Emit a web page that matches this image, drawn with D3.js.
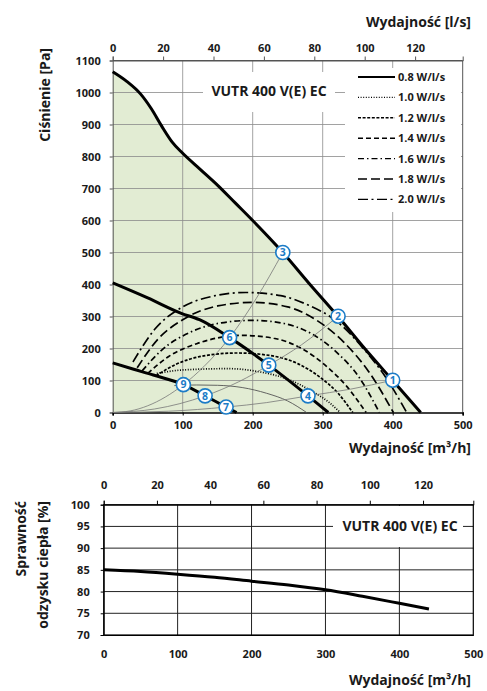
<!DOCTYPE html>
<html lang="pl">
<head>
<meta charset="UTF-8">
<title>VUTR 400 V(E) EC</title>
<script src="https://cdn.jsdelivr.net/npm/d3@7/dist/d3.min.js"></script>
<style>
  body{margin:0;background:#fff}
  svg text{font-family:"Open Sans",sans-serif;font-weight:700;fill:#1a1a1a}
</style>
</head>
<body>
<div id="box"></div>
<script>
// charakterystyka wentylatora [m3/h, Pa]
const maxCurve=[[0,1065],[20,1035],[40,995],[55,950],[70,895],[85,845],[100,810],[125,760],[150,710],[175,655],[200,600],[243,500],[280,405],[322,300],[360,200],[400,100],[440,0]];
const midCurve=[[0,405],[50,358],[98,310],[124,290],[167,234],[223,148],[279,52],[308,0]];
const lowCurve=[[0,155],[30,135],[58,117],[101,87],[132,52],[162,17],[177,0]];

// krzywe mocy wlasciwej SFP
const p08=[[88,84],[120,86],[150,85],[185,78],[220,60],[250,36],[277,0]];
const p10=[[63,122],[100,133],[165,137],[210,127],[250,104],[285,66],[310,30],[325,0]];
const p12=[[62,115],[90,150],[130,177],[178,186],[225,178],[265,152],[295,112],[322,60],[343,0]];
const p14=[[50,122],[80,175],[120,215],[185,241],[230,232],[270,200],[305,145],[335,80],[362,0]];
const p16=[[42,130],[70,195],[110,250],[155,280],[200,288],[245,278],[285,245],[320,188],[352,110],[381,0]];
const p18=[[35,140],[65,230],[100,290],[150,333],[200,344],[250,330],[290,290],[330,220],[365,130],[401,0]];
const p20=[[29,158],[60,260],[100,330],[140,362],[190,375],[240,365],[280,335],[320,285],[360,195],[390,110],[420,0]];
const powerCurves=[p08,p10,p12,p14,p16,p18,p20];
const powerLabels=["0.8 W/l/s","1.0 W/l/s","1.2 W/l/s","1.4 W/l/s","1.6 W/l/s","1.8 W/l/s","2.0 W/l/s"];

// charakterystyki sieci i punkty pracy
const sys1=[[0,0],[80,4],[162,17],[220,31],[279,52],[340,73],[400,101]];
const sys2=[[0,0],[60,11],[132,52],[180,96],[223,148],[270,212],[322,301]];
const sys3=[[0,0],[25,5],[50,21],[75,48],[101,87],[130,143],[167,234],[205,356],[243,500]];
const workPoints=[[400,101],[322,301],[243,500],[279,52],[223,148],[167,234],[162,17],[132,52],[101,87]];

// sprawnosc odzysku ciepla [m3/h, %]
const efficiency=[[0,85],[50,84.6],[100,84],[150,83.3],[200,82.4],[250,81.5],[300,80.4],[350,78.9],[400,77.3],[440,76]];

// podzialki
const flowTicks=[0,100,200,300,400,500];
const lsTicks=[0,20,40,60,80,100,120];
const paTicks=[0,100,200,300,400,500,600,700,800,900,1000,1100];
const effTicks=[70,75,80,85,90,95,100];

const dashes=[null,"1,1.6","3,1.6","5,3","6,3,1.5,3","9,4","10,3.5,2,3.5"];
const fmt=d3.format("d");

const svg=d3.select("#box").append("svg").attr("width",487).attr("height",691);

// ---------- wykres 1: cisnienie ----------
const m1={top:60.5,left:112.7,width:350,height:352};
const x1=d3.scaleLinear().domain([0,500]).range([0,m1.width]);
const xs1=d3.scaleLinear().domain([0,500/3.6]).range([0,m1.width]);
const y1=d3.scaleLinear().domain([0,1100]).range([m1.height,0]);
const g1=svg.append("g").attr("transform",`translate(${m1.left},${m1.top})`);

const area=d3.area().x(d=>x1(d[0])).y0(y1(0)).y1(d=>y1(d[1])).curve(d3.curveMonotoneX);
const line1=d3.line().x(d=>x1(d[0])).y(d=>y1(d[1])).curve(d3.curveMonotoneX);

g1.append("path").datum(maxCurve).attr("d",area).attr("fill","#e2ecd3");

g1.selectAll(".vg").data(flowTicks.slice(1,-1)).join("line")
  .attr("x1",d=>x1(d)).attr("x2",d=>x1(d)).attr("y1",0).attr("y2",m1.height)
  .attr("stroke","#8a8a8a").attr("stroke-width",0.8);
g1.selectAll(".hg").data(paTicks.slice(1,-1)).join("line")
  .attr("x1",0).attr("x2",m1.width).attr("y1",d=>y1(d)).attr("y2",d=>y1(d))
  .attr("stroke","#8a8a8a").attr("stroke-width",0.8);

// tlo pod opisem i legenda
svg.append("rect").attr("x",203).attr("y",72).attr("width",132).attr("height",40).attr("fill","#fff");
svg.append("rect").attr("x",345).attr("y",68).attr("width",116).attr("height",144).attr("fill","#fff");

// ramka
g1.append("path").attr("d",`M0,0H${m1.width}V${m1.height}`).attr("fill","none").attr("stroke","#555").attr("stroke-width",1);

const ax=g1.append("g").call(d3.axisLeft(y1).tickValues(paTicks).tickFormat(fmt).tickSize(3).tickPadding(9));
const axT=g1.append("g").call(d3.axisTop(xs1).tickValues(lsTicks).tickFormat(fmt).tickSize(4).tickPadding(5));
const axB=g1.append("g").attr("transform",`translate(0,${m1.height})`)
  .call(d3.axisBottom(x1).tickValues(flowTicks).tickFormat(fmt).tickSize(3).tickPadding(6));
[ax,axT].forEach(a=>{a.select(".domain").attr("stroke","#555");a.selectAll(".tick line").attr("stroke","#555");});
axB.select(".domain").attr("stroke","#000").attr("stroke-width",1.6);
axB.selectAll(".tick line").attr("stroke","#000");
g1.selectAll(".tick text").attr("font-size","11px");

// krzywe mocy
powerCurves.forEach((c,i)=>{
  g1.append("path").datum(c).attr("d",line1).attr("fill","none")
    .attr("stroke",i===0?"#555":"#000")
    .attr("stroke-width",i===0?0.9:1.7)
    .attr("stroke-dasharray",dashes[i]);
});
[sys1,sys2,sys3].forEach(c=>{
  g1.append("path").datum(c).attr("d",line1).attr("fill","none").attr("stroke","#777").attr("stroke-width",0.8);
});
[maxCurve,midCurve,lowCurve].forEach(c=>{
  g1.append("path").datum(c).attr("d",line1).attr("fill","none").attr("stroke","#000").attr("stroke-width",3);
});

const pts=g1.selectAll(".pt").data(workPoints).join("g")
  .attr("transform",d=>`translate(${x1(d[0])},${y1(d[1])})`);
pts.append("circle").attr("r",7).attr("fill","#fff").attr("stroke","#1c7cc7").attr("stroke-width",1.6);
pts.append("text").text((d,i)=>i+1).attr("text-anchor","middle").attr("dy","0.36em")
  .attr("font-size","10.5px").style("fill","#1c7cc7");

// legenda
const lg=svg.append("g");
powerLabels.forEach((t,i)=>{
  const yy=77+i*20.4;
  lg.append("line").attr("x1",358).attr("x2",395).attr("y1",yy).attr("y2",yy)
    .attr("stroke","#000").attr("stroke-width",i===0?2:1.4).attr("stroke-dasharray",dashes[i]);
  lg.append("text").attr("x",398).attr("y",yy+4).attr("font-size","11px").text(t);
});

svg.append("text").attr("x",269).attr("y",96).attr("text-anchor","middle").attr("font-size","14px").text("VUTR 400 V(E) EC");
svg.append("text").attr("x",471).attr("y",27).attr("text-anchor","end").attr("font-size","14px").text("Wydajność [l/s]");
svg.append("text").attr("x",471).attr("y",453).attr("text-anchor","end").attr("font-size","14px").text("Wydajność [m³/h]");
svg.append("text").attr("transform","translate(50,48) rotate(-90)").attr("text-anchor","end").attr("font-size","14px").text("Ciśnienie [Pa]");

// ---------- wykres 2: sprawnosc ----------
const m2={top:504.7,left:103.7,width:369.6,height:130.3};
const x2=d3.scaleLinear().domain([0,500]).range([0,m2.width]);
const xs2=d3.scaleLinear().domain([0,500/3.6]).range([0,m2.width]);
const y2=d3.scaleLinear().domain([70,100]).range([m2.height,0]);
const g2=svg.append("g").attr("transform",`translate(${m2.left},${m2.top})`);

g2.selectAll(".vg").data(flowTicks.slice(1,-1)).join("line")
  .attr("x1",d=>x2(d)).attr("x2",d=>x2(d)).attr("y1",0).attr("y2",m2.height)
  .attr("stroke","#222").attr("stroke-width",1);
g2.selectAll(".hg").data(effTicks.slice(1,-1)).join("line")
  .attr("x1",0).attr("x2",m2.width).attr("y1",d=>y2(d)).attr("y2",d=>y2(d))
  .attr("stroke","#222").attr("stroke-width",1);
svg.append("rect").attr("x",333).attr("y",506).attr("width",130).attr("height",41).attr("fill","#fff");
g2.append("rect").attr("width",m2.width).attr("height",m2.height).attr("fill","none").attr("stroke","#000").attr("stroke-width",1.2);

const bx=g2.append("g").call(d3.axisLeft(y2).tickValues(effTicks).tickFormat(fmt).tickSize(3).tickPadding(11));
const bxT=g2.append("g").call(d3.axisTop(xs2).tickValues(lsTicks).tickFormat(fmt).tickSize(4).tickPadding(12));
const bxB=g2.append("g").attr("transform",`translate(0,${m2.height})`)
  .call(d3.axisBottom(x2).tickValues(flowTicks).tickFormat(fmt).tickSize(0).tickPadding(15));
[bx,bxT,bxB].forEach(a=>a.select(".domain").attr("stroke","#000"));
g2.selectAll(".tick text").attr("font-size","11px");

const line2=d3.line().x(d=>x2(d[0])).y(d=>y2(d[1])).curve(d3.curveMonotoneX);
g2.append("path").datum(efficiency).attr("d",line2).attr("fill","none").attr("stroke","#000").attr("stroke-width",3);

svg.append("text").attr("x",400).attr("y",531).attr("text-anchor","middle").attr("font-size","14px").text("VUTR 400 V(E) EC");
svg.append("text").attr("x",471).attr("y",685).attr("text-anchor","end").attr("font-size","14px").text("Wydajność [m³/h]");
svg.append("text").attr("transform","translate(26,501) rotate(-90)").attr("text-anchor","end").attr("font-size","14px").text("Sprawność");
svg.append("text").attr("transform","translate(48,501) rotate(-90)").attr("text-anchor","end").attr("font-size","14px").text("odzysku ciepła [%]");
</script>
</body>
</html>
